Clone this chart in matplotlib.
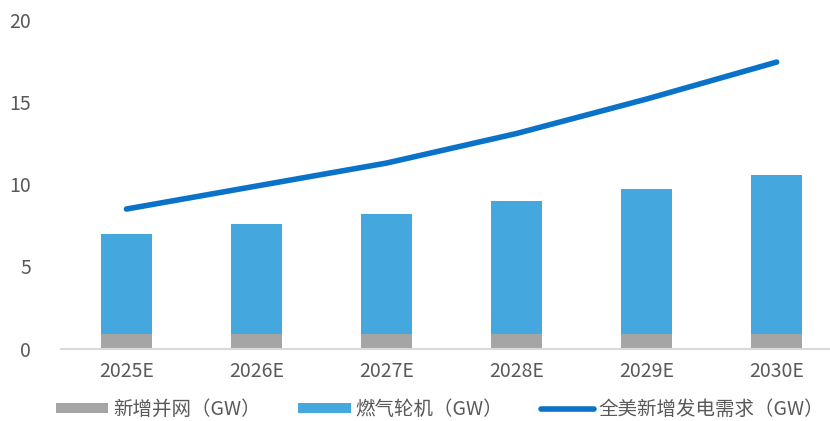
import matplotlib
matplotlib.use("Agg")
import matplotlib.pyplot as plt
import numpy as np

plt.rcParams['font.family'] = ['Noto Sans CJK SC', 'DejaVu Sans']

years = ['2025E', '2026E', '2027E', '2028E', '2029E', '2030E']
grid_added = [0.9, 0.9, 0.9, 0.9, 0.9, 0.9]          # 新增并网
gas_turbine = [6.1, 6.7, 7.3, 8.1, 8.85, 9.7]      # 燃气轮机 (stacked on top)
demand = [8.5, 9.9, 11.3, 13.1, 15.2, 17.45]       # 全美新增发电需求

x = np.arange(len(years))

fig = plt.figure(figsize=(8.3, 4.21), dpi=100)
ax = fig.add_axes([0.074, 0.172, 0.926, 0.78])

b1 = ax.bar(x, grid_added, width=0.39, color='#A5A5A5', label='新增并网（GW）')
b2 = ax.bar(x, gas_turbine, width=0.39, bottom=grid_added, color='#44A8DF',
            label='燃气轮机（GW）')
ln, = ax.plot(x, demand, color='#0A72C8', lw=4, solid_capstyle='round',
              label='全美新增发电需求（GW）')

ax.set_ylim(0, 20)
ax.set_yticks([0, 5, 10, 15, 20])
ax.set_xlim(-0.5, 5.41)
ax.set_xticks(x)
ax.set_xticklabels(years)

for s in ['top', 'right', 'left']:
    ax.spines[s].set_visible(False)
ax.spines['bottom'].set_color('#D9D9D9')
ax.spines['bottom'].set_linewidth(1.5)
ax.tick_params(axis='both', length=0, colors='#595959', labelsize=14)
ax.tick_params(axis='y', pad=22)
ax.tick_params(axis='x', pad=9)

leg = fig.legend(handles=[b1, b2, ln], loc='center', bbox_to_anchor=(0.53, 0.028),
                 ncol=3, frameon=False, fontsize=14, handlelength=2.7,
                 handleheight=0.45, handletextpad=0.25, columnspacing=1.95,
                 borderpad=0, borderaxespad=0)
for t in leg.get_texts():
    t.set_color('#595959')

fig.savefig('out.png', dpi=100)
